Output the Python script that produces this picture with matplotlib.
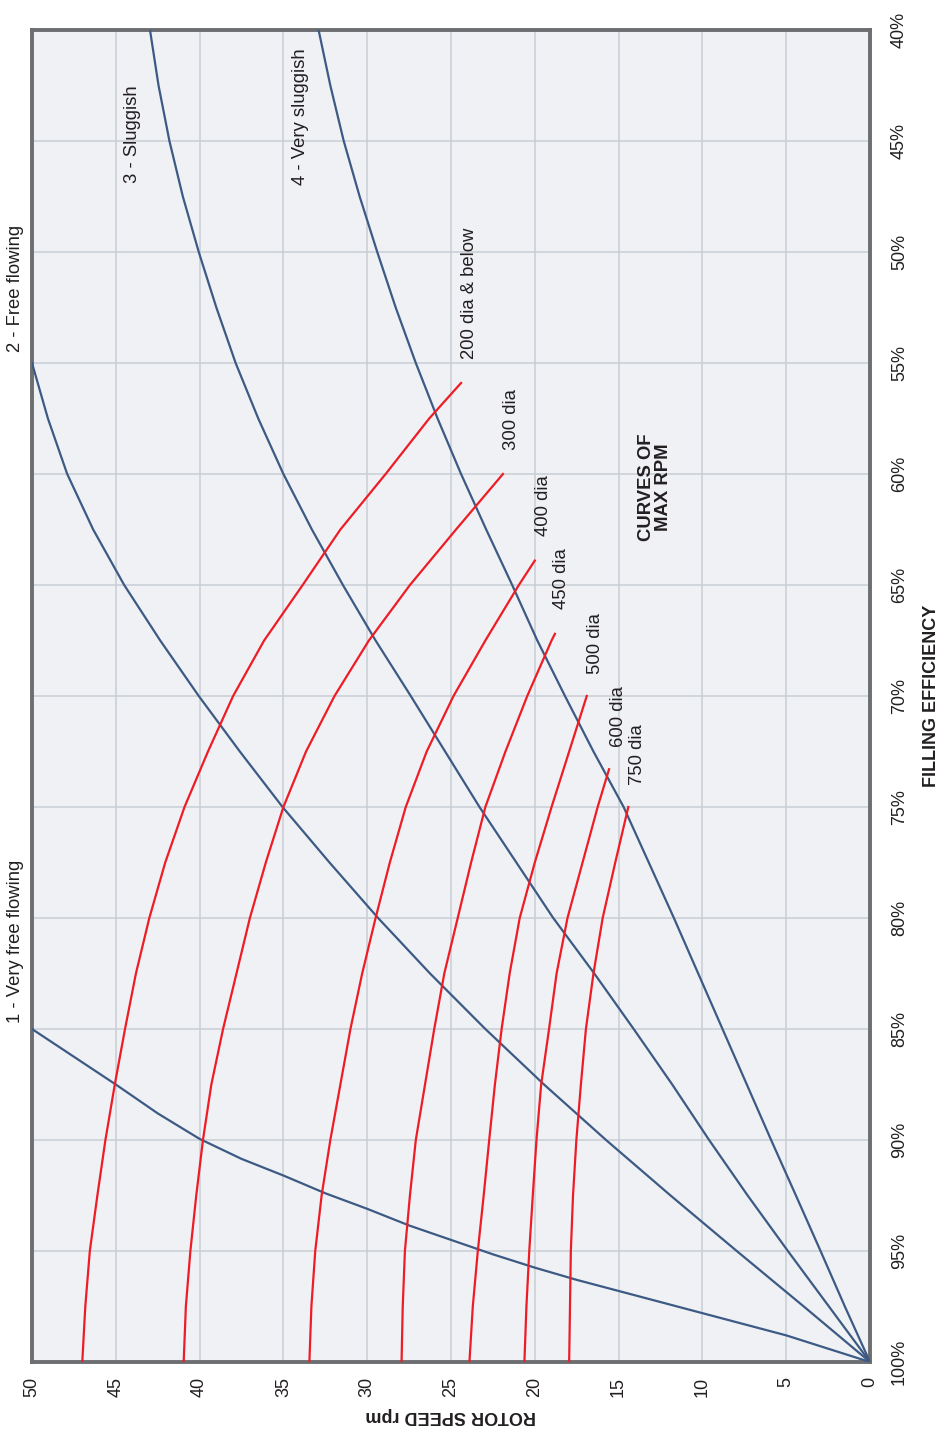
import matplotlib
matplotlib.use("Agg")
import matplotlib.pyplot as plt

plt.rcParams['font.family'] = ['Liberation Sans', 'DejaVu Sans']

# material flow curves (rotor speed rpm, filling efficiency %)
c1_rpm = [0, 2.5, 5, 7.5, 10, 12.5, 15, 17.5, 20, 22.5, 25, 27.5, 30, 32.5, 35, 37.5, 40, 42.5, 45, 47.5, 50]
c1_eff = [100, 99.4, 98.8, 98.3, 97.8, 97.3, 96.8, 96.3, 95.75, 95.15, 94.5, 93.85, 93.1, 92.4, 91.6,
          90.85, 89.95, 88.8, 87.5, 86.25, 85.0]

c2_eff = [55, 57.5, 60, 62.5, 65, 67.5, 70, 72.5, 75, 77.5, 80, 82.5, 85, 87.5, 90, 92.5, 95, 97.5, 100]
c2_rpm = [50, 49.05, 47.9, 46.35, 44.5, 42.35, 40.05, 37.6, 35.05, 32.25, 29.35, 26.25, 22.95, 19.45,
          15.75, 11.9, 7.95, 3.95, 0]

c3_eff = [40, 42.5, 45, 47.5, 50, 52.5, 55, 57.5, 60, 62.5, 65, 67.5, 70, 72.5, 75, 77.5, 80, 82.5,
          85, 87.5, 90, 92.5, 95, 97.5, 100]
c3_rpm = [42.96, 42.45, 41.8, 41.0, 40.05, 39.0, 37.85, 36.5, 35.0, 33.3, 31.45, 29.5, 27.4, 25.35,
          23.3, 21.1, 18.9, 16.45, 14.1, 11.8, 9.6, 7.3, 4.9, 2.45, 0]

c4_eff = [40, 42.5, 45, 47.5, 50, 52.5, 55, 57.5, 60, 62.5, 65, 67.5, 70, 72.5, 75, 77.5, 80, 82.5,
          85, 87.5, 90, 92.5, 95, 97.5, 100]
c4_rpm = [32.9, 32.2, 31.4, 30.45, 29.4, 28.3, 27.1, 25.8, 24.4, 22.9, 21.35, 19.85, 18.2, 16.5,
          14.7, 13.2, 11.7, 10.25, 8.8, 7.35, 5.9, 4.42, 2.95, 1.5, 0]

flow_curves = [(c1_rpm, c1_eff), (c2_rpm, c2_eff), (c3_rpm, c3_eff), (c4_rpm, c4_eff)]

# max rpm curves per rotor diameter
d200_eff = [100, 97.5, 95, 92.5, 90, 87.5, 85, 82.5, 80, 77.5, 75, 72.5, 70, 67.5, 65, 62.5, 60, 57.5, 55.9]
d200_rpm = [47.0, 46.82, 46.55, 46.1, 45.62, 45.06, 44.45, 43.8, 43.0, 42.05, 40.9, 39.5, 38.0, 36.15,
            33.85, 31.6, 28.9, 26.3, 24.4]

d300_eff = [100, 97.5, 95, 92.5, 90, 87.5, 85, 82.5, 80, 77.5, 75, 72.5, 70, 67.5, 65, 62.5, 60]
d300_rpm = [40.95, 40.82, 40.55, 40.2, 39.8, 39.3, 38.6, 37.8, 37.0, 36.05, 35.0, 33.65, 31.95, 29.9,
            27.45, 24.7, 21.9]

d400_eff = [100, 97.5, 95, 92.5, 90, 87.5, 85, 82.5, 80, 77.5, 75, 72.5, 70, 67.5, 65, 63.9]
d400_rpm = [33.45, 33.33, 33.1, 32.72, 32.2, 31.6, 31.0, 30.3, 29.5, 28.65, 27.7, 26.45, 24.85, 22.95,
            20.95, 20.0]

d450_eff = [100, 97.5, 95, 92.5, 90, 87.5, 85, 82.5, 80, 77.5, 75, 72.5, 70, 67.5, 67.2]
d450_rpm = [27.95, 27.88, 27.75, 27.45, 27.1, 26.55, 26.0, 25.4, 24.6, 23.8, 22.95, 21.75, 20.45, 19.0, 18.8]

d500_eff = [100, 97.5, 95, 92.5, 90, 87.5, 85, 82.5, 80, 77.5, 75, 72.5, 70]
d500_rpm = [23.9, 23.7, 23.4, 23.05, 22.72, 22.38, 21.98, 21.5, 20.9, 20.0, 19.0, 17.95, 16.9]

d600_eff = [100, 97.5, 95, 92.5, 90, 87.5, 85, 82.5, 80, 77.5, 75, 73.3]
d600_rpm = [20.62, 20.5, 20.33, 20.12, 19.9, 19.62, 19.15, 18.7, 18.05, 17.15, 16.25, 15.57]

d750_eff = [100, 97.5, 95, 92.5, 90, 87.5, 85, 82.5, 80, 77.5, 75]
d750_rpm = [17.95, 17.9, 17.85, 17.72, 17.52, 17.25, 16.95, 16.5, 15.95, 15.2, 14.42]

rpm_curves = [(d200_rpm, d200_eff), (d300_rpm, d300_eff), (d400_rpm, d400_eff),
              (d450_rpm, d450_eff), (d500_rpm, d500_eff), (d600_rpm, d600_eff),
              (d750_rpm, d750_eff)]

# labels and where they start (rpm, eff)
flow_labels = ["1 - Very free flowing", "2 - Free flowing", "3 - Sluggish", "4 - Very sluggish"]
flow_label_pos = [(51.0, 84.75), (51.0, 54.5), (44.0, 46.9), (34.0, 47.0)]

dia_labels = ["200 dia & below", "300 dia", "400 dia", "450 dia", "500 dia", "600 dia", "750 dia"]
dia_label_pos = [(23.9, 54.8), (21.4, 58.9), (19.5, 62.8), (18.4, 66.1), (16.4, 69.0),
                 (15.0, 72.3), (13.9, 74.0)]

rpm_ticks = list(range(0, 55, 5))
eff_ticks = list(range(40, 105, 5))

blue = '#3c5a84'
red = '#ee1c25'
txt = '#231f20'

fig = plt.figure(figsize=(9.48, 14.32), dpi=100)
ax = fig.add_axes([32/948, 1 - 1362/1432, (870 - 32)/948, (1362 - 30)/1432])
ax.set_facecolor('#eff1f5')

ax.set_xlim(50, 0)
ax.set_ylim(100, 40)

for r, e in flow_curves:
    ax.plot(r, e, color=blue, lw=1.6, zorder=3, solid_joinstyle='round')
for r, e in rpm_curves:
    ax.plot(r, e, color=red, lw=1.6, zorder=4, solid_joinstyle='round')

for lab, (r, e) in zip(flow_labels, flow_label_pos):
    ax.text(r, e, lab, rotation=90, rotation_mode='anchor', ha='left', va='center',
            fontsize=13.3, color=txt, clip_on=False)
for lab, (r, e) in zip(dia_labels, dia_label_pos):
    ax.text(r, e, lab, rotation=90, rotation_mode='anchor', ha='left', va='center',
            fontsize=13.3, color=txt)
ax.text(12.8, 60.6, "CURVES OF\nMAX RPM", rotation=90, rotation_mode='anchor',
        ha='center', va='center', multialignment='center', fontsize=13.3,
        fontweight='bold', color=txt, linespacing=1.0)

ax.set_xticks(rpm_ticks)
ax.set_xticklabels([str(t) for t in rpm_ticks])
ax.set_yticks(eff_ticks)
ax.set_yticklabels([f"{t}%" for t in eff_ticks], va='center')
ax.yaxis.tick_right()
ax.tick_params(axis='x', length=0, pad=11, labelsize=13, labelrotation=90, labelcolor=txt)
ax.tick_params(axis='y', length=0, pad=15, labelsize=13, labelrotation=90, labelcolor=txt)

ax.grid(True, color='#c9ced6', lw=1.1, zorder=0)
ax.set_axisbelow(True)

for s in ax.spines.values():
    s.set_color('#6d6e71')
    s.set_linewidth(2.8)

ax.set_xlabel("ROTOR SPEED rpm", rotation=180, fontsize=13, fontweight='bold',
              color=txt, labelpad=7)
ax.yaxis.set_label_position('right')
ax.set_ylabel("FILLING EFFICIENCY", rotation=90, fontsize=13, fontweight='bold',
              color=txt, labelpad=11)

fig.savefig("out.png", dpi=100, facecolor='white')
